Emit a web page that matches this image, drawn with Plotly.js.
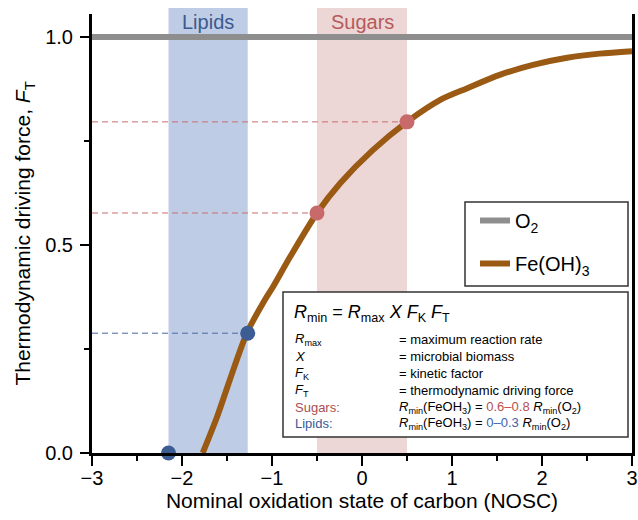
<!DOCTYPE html>
<html>
<head>
<meta charset="utf-8">
<script src="https://cdn.plot.ly/plotly-3.0.1.min.js"></script>
<style>html,body{margin:0;padding:0;background:#fff;}#chart{width:638px;height:520px;}</style>
</head>
<body>
<div id="chart"></div>
<script>
// ---- data ----
const o2X = [-3, 3];
const o2Y = [1.0, 1.0];
const feX = [-1.77, -1.61, -1.47, -1.28, -1.08, -0.99, -0.8, -0.5, -0.24, 0.12, 0.5, 0.87, 1.17, 1.53, 1.9, 2.28, 2.64, 3.0];
const feY = [0, 0.087, 0.175, 0.288, 0.368, 0.399, 0.471, 0.577, 0.649, 0.728, 0.796, 0.849, 0.877, 0.909, 0.933, 0.95, 0.96, 0.966];
const lipidX = [-2.15, -1.27];
const lipidY = [0, 0.288];
const sugarX = [-0.5, 0.5];
const sugarY = [0.577, 0.796];
const lipidBand = [-2.15, -1.27];
const sugarBand = [-0.5, 0.5];
const bandLabels = ['Lipids', 'Sugars'];
const legendNames = ['O<sub>2</sub>', 'Fe(OH)<sub>3</sub>'];
const yTickVals = [0, 0.5, 1.0];
const yTickText = ['0.0', '0.5', '1.0'];
const xTickVals = [-3, -2, -1, 0, 1, 2, 3];
const eqTitle = '<i>R</i><sub>min</sub> = <i>R</i><sub>max</sub> <i>X F</i><sub>K</sub> <i>F</i><sub>T</sub>';
const eqSymbols = ['<i>R</i><sub>max</sub>', '<i>X</i>', '<i>F</i><sub>K</sub>', '<i>F</i><sub>T</sub>', 'Sugars:', 'Lipids:'];
const eqDefs = ['= maximum reaction rate', '= microbial biomass', '= kinetic factor', '= thermodynamic driving force',
  '<i>R</i><sub>min</sub>(FeOH<sub>3</sub>) = <span style="color:#b9504e">0.6–0.8</span> <i>R</i><sub>min</sub>(O<sub>2</sub>)',
  '<i>R</i><sub>min</sub>(FeOH<sub>3</sub>) = <span style="color:#3e63ae">0–0.3</span> <i>R</i><sub>min</sub>(O<sub>2</sub>)'];

// ---- styles ----
const FONT = 'Liberation Sans, Arial, sans-serif';
const BLUE_DOT = '#3c5d93', RED_DOT = '#c86a6a';
const BLUE_DASH = '#4a68a0', RED_DASH = '#c86e6e';
const M = {l: 92, r: 6, t: 14, b: 67};
const W = 638, H = 520;
const PW = W - M.l - M.r, PH = H - M.t - M.b;
const px = x => (x - M.l) / PW;
const py = y => (H - M.b - y) / PH;

const traces = [];
lipidX.forEach((x, i) => { if (lipidY[i] > 0) traces.push({x: [-3, x], y: [lipidY[i], lipidY[i]], mode: 'lines', line: {color: BLUE_DASH, width: 1, dash: '6px,4px'}, showlegend: false, hoverinfo: 'skip'}); });
sugarX.forEach((x, i) => traces.push({x: [-3, x], y: [sugarY[i], sugarY[i]], mode: 'lines', line: {color: RED_DASH, width: 1, dash: '6px,4px'}, showlegend: false, hoverinfo: 'skip'}));
traces.push({x: o2X, y: o2Y, mode: 'lines', name: legendNames[0], line: {color: '#8e8e8e', width: 6}, legendgroup: 'a'});
traces.push({x: feX, y: feY, mode: 'lines', name: legendNames[1], line: {color: '#9a5a14', width: 6, shape: 'spline', smoothing: 0.8}, legendgroup: 'b'});
traces.push({x: lipidX, y: lipidY, mode: 'markers', marker: {color: BLUE_DOT, size: 15}, showlegend: false, cliponaxis: false});
traces.push({x: sugarX, y: sugarY, mode: 'markers', marker: {color: RED_DOT, size: 15}, showlegend: false, cliponaxis: false});

const bandTop = py(8);
const shapes = [
  {type: 'rect', xref: 'x', yref: 'paper', x0: lipidBand[0], x1: lipidBand[1], y0: 0, y1: bandTop, fillcolor: '#bfcce5', line: {width: 0}, layer: 'below'},
  {type: 'rect', xref: 'x', yref: 'paper', x0: sugarBand[0], x1: sugarBand[1], y0: 0, y1: bandTop, fillcolor: '#ecd6d6', line: {width: 0}, layer: 'below'},
  {type: 'rect', xref: 'paper', yref: 'paper', x0: px(465), x1: px(628), y0: py(286), y1: py(202), fillcolor: '#fff', line: {color: '#333', width: 1.5}, layer: 'above'},
  {type: 'rect', xref: 'paper', yref: 'paper', x0: px(283), x1: px(628), y0: py(437), y1: py(292), fillcolor: '#fff', line: {color: '#333', width: 1.5}, layer: 'above'}
];

const annotations = [
  {xref: 'x', yref: 'paper', x: (lipidBand[0] + lipidBand[1]) / 2, y: py(22), yanchor: 'middle', text: bandLabels[0], showarrow: false, font: {size: 20, color: '#3b5a8e', family: FONT}},
  {xref: 'x', yref: 'paper', x: (sugarBand[0] + sugarBand[1]) / 2, y: py(22), yanchor: 'middle', text: bandLabels[1], showarrow: false, font: {size: 20, color: '#b75a5a', family: FONT}},
  {xref: 'paper', yref: 'paper', x: px(292), y: py(313), xanchor: 'left', yanchor: 'middle', text: eqTitle, showarrow: false, font: {size: 18, color: '#000', family: FONT}}
];
const rowY = [339, 356, 373, 390, 407, 423];
const symColors = ['#000', '#000', '#000', '#000', '#a8504f', '#3a5a98'];
eqSymbols.forEach((s, i) => annotations.push({xref: 'paper', yref: 'paper', x: px(293), y: py(rowY[i]), xanchor: 'left', yanchor: 'middle', text: s, showarrow: false, font: {size: 13, color: symColors[i], family: FONT}}));
eqDefs.forEach((s, i) => annotations.push({xref: 'paper', yref: 'paper', x: px(397), y: py(rowY[i]), xanchor: 'left', yanchor: 'middle', text: s, showarrow: false, font: {size: 13, color: '#000', family: FONT}}));

const layout = {
  width: W, height: H,
  margin: M,
  paper_bgcolor: '#fff', plot_bgcolor: '#fff',
  font: {family: FONT, color: '#000'},
  showlegend: true,
  legend: {x: px(475), y: py(201), xanchor: 'left', yanchor: 'top', bgcolor: 'rgba(0,0,0,0)', borderwidth: 0, font: {size: 20, family: FONT}, traceorder: 'grouped', tracegroupgap: 14},
  xaxis: {
    range: [-3, 3], showgrid: false, zeroline: false, showline: true, linecolor: '#000', linewidth: 3,
    ticks: 'outside', ticklen: 10, tickwidth: 1.5, tickcolor: '#000', tickvals: xTickVals,
    ticklabelstandoff: -5,
    tickfont: {size: 20, family: FONT},
    minor: {tickvals: [-2.5, -1.5, -0.5, 0.5, 1.5, 2.5], ticks: 'outside', ticklen: 5, tickwidth: 1.2, tickcolor: '#000', showgrid: false},
    title: {text: 'Nominal oxidation state of carbon (NOSC)', font: {size: 21, family: FONT}, standoff: 6}
  },
  yaxis: {
    range: [0, 439 / 416], showgrid: false, zeroline: false, showline: true, mirror: true, linecolor: '#000', linewidth: 3,
    ticks: 'outside', ticklen: 9, tickwidth: 1.5, tickcolor: '#000', tickvals: yTickVals, ticktext: yTickText,
    ticklabelstandoff: 3,
    tickfont: {size: 20, family: FONT},
    minor: {tickvals: [0.25, 0.75], ticks: 'outside', ticklen: 5, tickwidth: 1.2, tickcolor: '#000', showgrid: false},
    title: {text: 'Thermodynamic driving force, <i>F</i><sub>T</sub>', font: {size: 21, family: FONT}, standoff: 9}
  },
  shapes: shapes,
  annotations: annotations
};

Plotly.newPlot('chart', traces, layout, {displayModeBar: false, staticPlot: true});
</script>
</body>
</html>
